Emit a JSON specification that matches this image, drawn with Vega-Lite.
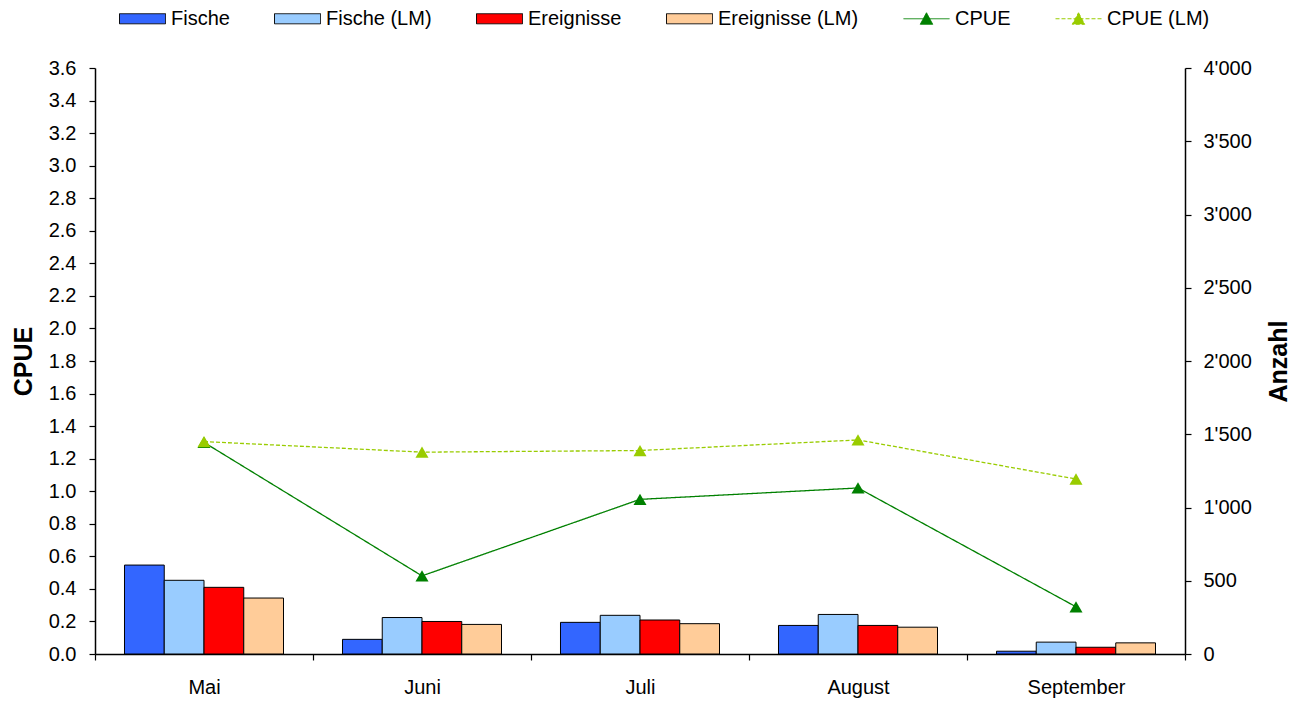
{
  "$schema": "https://vega.github.io/schema/vega-lite/v6.json",
  "width": 1090,
  "height": 586,
  "autosize": "none",
  "padding": {"left": 95, "top": 68, "right": 120, "bottom": 50},
  "background": "white",
  "config": {
    "view": {"stroke": null},
    "font": "Liberation Sans",
    "axis": {
      "domainColor": "black",
      "tickColor": "black",
      "labelColor": "black",
      "titleColor": "black",
      "labelFont": "Liberation Sans",
      "titleFont": "Liberation Sans",
      "labelFontSize": 20,
      "titleFontSize": 25,
      "titleFontWeight": "bold",
      "grid": false,
      "tickSize": 6,
      "domainWidth": 1.5,
      "tickWidth": 1.2
    }
  },
  "data": {
    "values": [
      {"month": "Mai", "mi": 1, "series": "Fische", "kind": "bar", "value": 607},
      {"month": "Mai", "mi": 1, "series": "Fische (LM)", "kind": "bar", "value": 503},
      {"month": "Mai", "mi": 1, "series": "Ereignisse", "kind": "bar", "value": 455},
      {"month": "Mai", "mi": 1, "series": "Ereignisse (LM)", "kind": "bar", "value": 382},
      {"month": "Juni", "mi": 2, "series": "Fische", "kind": "bar", "value": 100},
      {"month": "Juni", "mi": 2, "series": "Fische (LM)", "kind": "bar", "value": 249},
      {"month": "Juni", "mi": 2, "series": "Ereignisse", "kind": "bar", "value": 222},
      {"month": "Juni", "mi": 2, "series": "Ereignisse (LM)", "kind": "bar", "value": 202},
      {"month": "Juli", "mi": 3, "series": "Fische", "kind": "bar", "value": 216},
      {"month": "Juli", "mi": 3, "series": "Fische (LM)", "kind": "bar", "value": 264},
      {"month": "Juli", "mi": 3, "series": "Ereignisse", "kind": "bar", "value": 232},
      {"month": "Juli", "mi": 3, "series": "Ereignisse (LM)", "kind": "bar", "value": 207},
      {"month": "August", "mi": 4, "series": "Fische", "kind": "bar", "value": 195},
      {"month": "August", "mi": 4, "series": "Fische (LM)", "kind": "bar", "value": 270},
      {"month": "August", "mi": 4, "series": "Ereignisse", "kind": "bar", "value": 195},
      {"month": "August", "mi": 4, "series": "Ereignisse (LM)", "kind": "bar", "value": 183},
      {"month": "September", "mi": 5, "series": "Fische", "kind": "bar", "value": 19},
      {"month": "September", "mi": 5, "series": "Fische (LM)", "kind": "bar", "value": 81},
      {"month": "September", "mi": 5, "series": "Ereignisse", "kind": "bar", "value": 46},
      {"month": "September", "mi": 5, "series": "Ereignisse (LM)", "kind": "bar", "value": 76},
      {"month": "Mai", "mi": 1, "series": "CPUE", "kind": "line", "value": 1.30},
      {"month": "Juni", "mi": 2, "series": "CPUE", "kind": "line", "value": 0.48},
      {"month": "Juli", "mi": 3, "series": "CPUE", "kind": "line", "value": 0.95},
      {"month": "August", "mi": 4, "series": "CPUE", "kind": "line", "value": 1.02},
      {"month": "September", "mi": 5, "series": "CPUE", "kind": "line", "value": 0.29},
      {"month": "Mai", "mi": 1, "series": "CPUE (LM)", "kind": "line", "value": 1.305},
      {"month": "Juni", "mi": 2, "series": "CPUE (LM)", "kind": "line", "value": 1.24},
      {"month": "Juli", "mi": 3, "series": "CPUE (LM)", "kind": "line", "value": 1.25},
      {"month": "August", "mi": 4, "series": "CPUE (LM)", "kind": "line", "value": 1.315},
      {"month": "September", "mi": 5, "series": "CPUE (LM)", "kind": "line", "value": 1.075}
    ]
  },
  "encoding": {
    "x": {
      "field": "month",
      "type": "nominal",
      "sort": ["Mai", "Juni", "Juli", "August", "September"],
      "scale": {"paddingInner": 0, "paddingOuter": 0},
      "axis": {
        "title": null,
        "labelAngle": 0,
        "tickBand": "extent",
        "labelPadding": 17
      }
    }
  },
  "layer": [
    {
      "encoding": {
        "y": {
          "field": "value",
          "type": "quantitative",
          "scale": {"domain": [0, 4000], "nice": false, "zero": true},
          "axis": {
            "orient": "right",
            "title": "Anzahl",
            "titleAngle": 270,
            "values": [0, 500, 1000, 1500, 2000, 2500, 3000, 3500, 4000],
            "labelExpr": "replace(format(datum.value, ','), ',', \"'\")",
            "labelPadding": 12,
            "titlePadding": 40
          }
        }
      },
      "layer": [
        {
          "mark": {"type": "point", "filled": true, "opacity": 0},
          "encoding": {
            "color": {
              "field": "series",
              "type": "nominal",
              "scale": {
                "domain": ["Fische", "Fische (LM)", "Ereignisse", "Ereignisse (LM)", "CPUE", "CPUE (LM)"],
                "range": ["#3366FF", "#99CCFF", "#FF0000", "#FFCC99", "#008000", "#99CC00"]
              },
              "legend": {
                "title": null,
                "orient": "none",
                "legendX": 24,
                "legendY": -73,
                "direction": "horizontal",
                "columns": 6,
                "columnPadding": 42,
                "gridAlign": "each",
                "symbolSize": 2116,
                "labelFont": "Liberation Sans",
                "labelFontSize": 20,
                "labelColor": "black",
                "labelOffset": 5,
                "symbolStrokeWidth": 1,
                "padding": 0,
                "encode": {
                  "symbols": {
                    "update": {
                      "opacity": {"value": 1},
                      "stroke": {"signal": "indexof(['CPUE','CPUE (LM)'], datum.value) >= 0 ? scale('color', datum.value) : 'black'"},
                      "strokeDash": {"signal": "datum.value === 'CPUE (LM)' ? [4,2] : [1,0]"},
                      "strokeWidth": {"value": 1}
                    }
                  }
                }
              }
            },
            "shape": {
              "field": "series",
              "type": "nominal",
              "scale": {
                "domain": ["Fische", "Fische (LM)", "Ereignisse", "Ereignisse (LM)", "CPUE", "CPUE (LM)"],
                "range": [
                  "M-1,-0.22H1V0.22H-1Z",
                  "M-1,-0.22H1V0.22H-1Z",
                  "M-1,-0.22H1V0.22H-1Z",
                  "M-1,-0.22H1V0.22H-1Z",
                  "M-1,0H1M0,-0.26L0.27,0.24H-0.27Z",
                  "M-1,0H1M0,-0.26L0.27,0.24H-0.27Z"
                ]
              },
              "legend": {
                "title": null,
                "orient": "none",
                "legendX": 24,
                "legendY": -73,
                "direction": "horizontal",
                "columns": 6
              }
            }
          }
        },
        {
          "transform": [{"filter": "datum.kind === 'bar'"}],
          "mark": {"type": "bar", "stroke": "black", "strokeWidth": 1},
          "encoding": {
            "xOffset": {
              "field": "series",
              "type": "nominal",
              "scale": {"domain": ["Fische", "Fische (LM)", "Ereignisse", "Ereignisse (LM)"], "paddingInner": 0, "paddingOuter": 0.742}
            },
            "color": {"field": "series", "type": "nominal"}
          }
        }
      ]
    },
    {
      "transform": [{"filter": "datum.kind === 'line'"}],
      "encoding": {
        "y": {
          "field": "value",
          "type": "quantitative",
          "scale": {"domain": [0, 3.6], "nice": false, "zero": true},
          "axis": {
            "orient": "left",
            "title": "CPUE",
            "values": [0, 0.2, 0.4, 0.6, 0.8, 1.0, 1.2, 1.4, 1.6, 1.8, 2.0, 2.2, 2.4, 2.6, 2.8, 3.0, 3.2, 3.4, 3.6],
            "format": ".1f",
            "labelPadding": 13,
            "titlePadding": 12
          }
        }
      },
      "layer": [
        {
          "mark": {"type": "line", "strokeWidth": 1.3},
          "encoding": {
            "stroke": {
              "field": "series",
              "type": "nominal",
              "scale": {"domain": ["CPUE", "CPUE (LM)"], "range": ["#008000", "#99CC00"]},
              "legend": null
            },
            "strokeDash": {
              "field": "series",
              "type": "nominal",
              "scale": {"domain": ["CPUE", "CPUE (LM)"], "range": [[1, 0], [4, 2]]},
              "legend": null
            },
            "order": {"field": "mi", "type": "quantitative"}
          }
        },
        {
          "mark": {"type": "point", "shape": "triangle-up", "filled": true, "size": 170, "opacity": 1},
          "encoding": {
            "color": {"field": "series", "type": "nominal"}
          }
        }
      ]
    }
  ],
  "resolve": {"scale": {"y": "independent"}}
}
